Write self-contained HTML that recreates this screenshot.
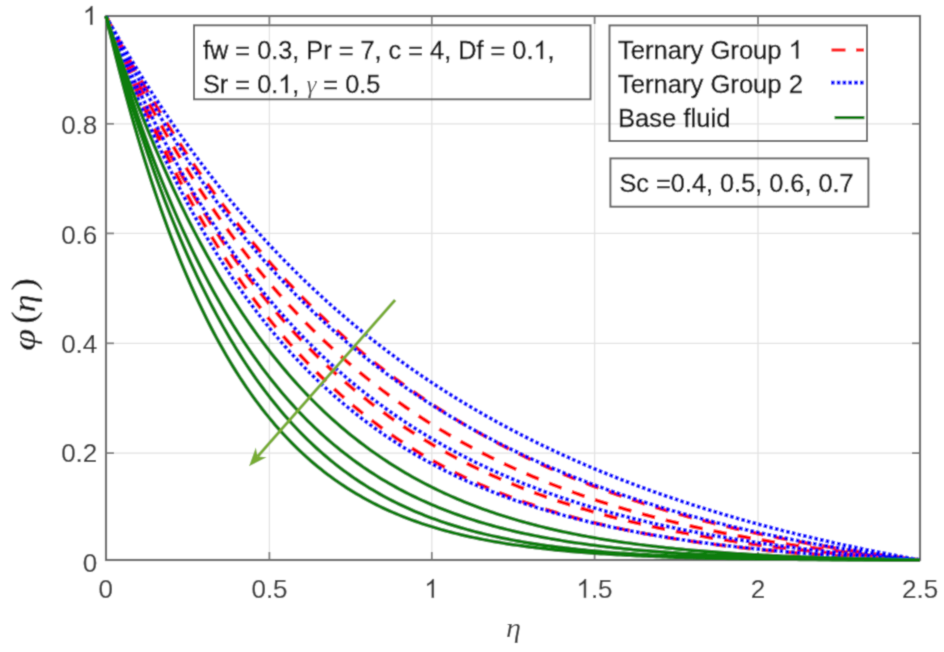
<!DOCTYPE html>
<html><head><meta charset="utf-8"><style>
html,body{margin:0;padding:0;background:#fff;}
svg{display:block;}
.g{stroke:#e2e2e2;stroke-width:1.3;}
.cg{fill:none;stroke:#0a7d0a;stroke-width:3.5;}
.cr{fill:none;stroke:#ff0000;stroke-width:3.7;stroke-dasharray:13.5,11;}
.cb{fill:none;stroke:#0000ff;stroke-width:3.7;stroke-dasharray:3.6,2.2;}
.ax{fill:none;stroke:#666;stroke-width:2.2;}
.tk{stroke:#7a7a7a;stroke-width:1.8;}
.tl{font-family:"Liberation Sans",sans-serif;font-size:26px;fill:#3a3a3a;stroke:#3a3a3a;stroke-width:0.2px;}
.tx{font-family:"Liberation Sans",sans-serif;font-size:25.3px;fill:#141414;stroke:#141414;stroke-width:0.4px;}
.lg{font-size:25.6px;}
.h1{fill:transparent;stroke:none;}
.gm{font-family:"Liberation Serif",serif;font-style:italic;fill:#555;stroke:none;}
.bx{fill:none;stroke:#666;stroke-width:2;}
.ml{font-family:"Liberation Serif",serif;font-style:italic;fill:#3a3a3a;}
.ml2{font-family:"Liberation Serif",serif;font-style:italic;fill:#1e1e1e;stroke:#1e1e1e;stroke-width:0.3px;}
.mr{font-family:"Liberation Serif",serif;fill:#1a1a1a;stroke:#1a1a1a;stroke-width:0.3px;}
</style></head><body>
<svg width="944" height="652" viewBox="0 0 944 652">
<defs><filter id="bl" x="0" y="0" width="944" height="652" filterUnits="userSpaceOnUse"><feConvolveMatrix order="3" kernelMatrix="0.02768 0.11101 0.02768 0.11101 0.44521 0.11101 0.02768 0.11101 0.02768" edgeMode="duplicate" preserveAlpha="false"/></filter></defs>
<g filter="url(#bl)"><rect width="944" height="652" fill="#fff"/>
<line x1="269.4" y1="16" x2="269.4" y2="560" class="g"/>
<line x1="431.8" y1="16" x2="431.8" y2="560" class="g"/>
<line x1="594.6" y1="16" x2="594.6" y2="560" class="g"/>
<line x1="758.0" y1="16" x2="758.0" y2="560" class="g"/>
<line x1="106" y1="453.1" x2="920" y2="453.1" class="g"/>
<line x1="106" y1="343.3" x2="920" y2="343.3" class="g"/>
<line x1="106" y1="233.4" x2="920" y2="233.4" class="g"/>
<line x1="106" y1="123.8" x2="920" y2="123.8" class="g"/>
<rect x="106" y="16" width="814" height="544" class="ax"/>
<line x1="269.4" y1="560" x2="269.4" y2="552" class="tk"/>
<line x1="269.4" y1="16" x2="269.4" y2="24" class="tk"/>
<line x1="431.8" y1="560" x2="431.8" y2="552" class="tk"/>
<line x1="431.8" y1="16" x2="431.8" y2="24" class="tk"/>
<line x1="594.6" y1="560" x2="594.6" y2="552" class="tk"/>
<line x1="594.6" y1="16" x2="594.6" y2="24" class="tk"/>
<line x1="758.0" y1="560" x2="758.0" y2="552" class="tk"/>
<line x1="758.0" y1="16" x2="758.0" y2="24" class="tk"/>
<line x1="106" y1="453.1" x2="114" y2="453.1" class="tk"/>
<line x1="920" y1="453.1" x2="912" y2="453.1" class="tk"/>
<line x1="106" y1="343.3" x2="114" y2="343.3" class="tk"/>
<line x1="920" y1="343.3" x2="912" y2="343.3" class="tk"/>
<line x1="106" y1="233.4" x2="114" y2="233.4" class="tk"/>
<line x1="920" y1="233.4" x2="912" y2="233.4" class="tk"/>
<line x1="106" y1="123.8" x2="114" y2="123.8" class="tk"/>
<line x1="920" y1="123.8" x2="912" y2="123.8" class="tk"/>
<path d="M106.00,16.00 L109.26,22.29 L112.51,28.52 L115.77,34.68 L119.02,40.78 L122.28,46.81 L125.54,52.78 L128.79,58.69 L132.05,64.53 L135.30,70.31 L138.56,76.03 L141.82,81.69 L145.07,87.29 L148.33,92.83 L151.58,98.31 L154.84,103.73 L158.10,109.10 L161.35,114.41 L164.61,119.66 L167.86,124.86 L171.12,130.00 L174.38,135.08 L177.63,140.12 L180.89,145.09 L184.14,150.02 L187.40,154.89 L190.66,159.72 L193.91,164.49 L197.17,169.21 L200.42,173.87 L203.68,178.49 L206.94,183.06 L210.19,187.58 L213.45,192.06 L216.70,196.48 L219.96,200.86 L223.22,205.19 L226.47,209.48 L229.73,213.71 L232.98,217.91 L236.24,222.06 L239.50,226.16 L242.75,230.22 L246.01,234.24 L249.26,238.21 L252.52,242.14 L255.78,246.03 L259.03,249.88 L262.29,253.68 L265.54,257.45 L268.80,261.17 L272.06,264.86 L275.31,268.50 L278.57,272.11 L281.82,275.67 L285.08,279.20 L288.34,282.69 L291.59,286.14 L294.85,289.56 L298.10,292.94 L301.36,296.28 L304.62,299.58 L307.87,302.85 L311.13,306.09 L314.38,309.29 L317.64,312.45 L320.90,315.59 L324.15,318.68 L327.41,321.75 L330.66,324.78 L333.92,327.77 L337.18,330.74 L340.43,333.67 L343.69,336.57 L346.94,339.44 L350.20,342.28 L353.46,345.09 L356.71,347.87 L359.97,350.61 L363.22,353.33 L366.48,356.02 L369.74,358.68 L372.99,361.31 L376.25,363.91 L379.50,366.48 L382.76,369.03 L386.02,371.54 L389.27,374.03 L392.53,376.49 L395.78,378.93 L399.04,381.34 L402.30,383.72 L405.55,386.08 L408.81,388.41 L412.06,390.71 L415.32,392.99 L418.58,395.25 L421.83,397.48 L425.09,399.69 L428.34,401.87 L431.60,404.03 L434.86,406.16 L438.11,408.27 L441.37,410.36 L444.62,412.42 L447.88,414.47 L451.14,416.49 L454.39,418.48 L457.65,420.46 L460.90,422.41 L464.16,424.35 L467.42,426.26 L470.67,428.15 L473.93,430.02 L477.18,431.87 L480.44,433.70 L483.70,435.50 L486.95,437.29 L490.21,439.06 L493.46,440.81 L496.72,442.54 L499.98,444.25 L503.23,445.94 L506.49,447.62 L509.74,449.27 L513.00,450.91 L516.26,452.52 L519.51,454.13 L522.77,455.71 L526.02,457.27 L529.28,458.82 L532.54,460.35 L535.79,461.87 L539.05,463.36 L542.30,464.84 L545.56,466.31 L548.82,467.75 L552.07,469.19 L555.33,470.60 L558.58,472.00 L561.84,473.39 L565.10,474.76 L568.35,476.11 L571.61,477.45 L574.86,478.77 L578.12,480.08 L581.38,481.37 L584.63,482.65 L587.89,483.92 L591.14,485.17 L594.40,486.41 L597.66,487.63 L600.91,488.84 L604.17,490.04 L607.42,491.22 L610.68,492.39 L613.94,493.55 L617.19,494.70 L620.45,495.83 L623.70,496.95 L626.96,498.05 L630.22,499.14 L633.47,500.23 L636.73,501.30 L639.98,502.35 L643.24,503.40 L646.50,504.43 L649.75,505.45 L653.01,506.46 L656.26,507.46 L659.52,508.45 L662.78,509.43 L666.03,510.40 L669.29,511.35 L672.54,512.29 L675.80,513.23 L679.06,514.15 L682.31,515.06 L685.57,515.97 L688.82,516.86 L692.08,517.74 L695.34,518.61 L698.59,519.48 L701.85,520.33 L705.10,521.17 L708.36,522.01 L711.62,522.83 L714.87,523.64 L718.13,524.45 L721.38,525.25 L724.64,526.03 L727.90,526.81 L731.15,527.58 L734.41,528.34 L737.66,529.10 L740.92,529.84 L744.18,530.57 L747.43,531.30 L750.69,532.02 L753.94,532.73 L757.20,533.43 L760.46,534.13 L763.71,534.82 L766.97,535.49 L770.22,536.17 L773.48,536.83 L776.74,537.48 L779.99,538.13 L783.25,538.77 L786.50,539.41 L789.76,540.03 L793.02,540.65 L796.27,541.27 L799.53,541.87 L802.78,542.47 L806.04,543.06 L809.30,543.65 L812.55,544.22 L815.81,544.80 L819.06,545.36 L822.32,545.92 L825.58,546.47 L828.83,547.02 L832.09,547.56 L835.34,548.09 L838.60,548.62 L841.86,549.14 L845.11,549.65 L848.37,550.16 L851.62,550.67 L854.88,551.17 L858.14,551.66 L861.39,552.14 L864.65,552.62 L867.90,553.10 L871.16,553.57 L874.42,554.03 L877.67,554.49 L880.93,554.95 L884.18,555.40 L887.44,555.84 L890.70,556.28 L893.95,556.71 L897.21,557.14 L900.46,557.56 L903.72,557.98 L906.98,558.39 L910.23,558.80 L913.49,559.21 L916.74,559.61 L920.00,560.00" class="cr"/>
<path d="M106.00,16.00 L109.26,23.11 L112.51,30.14 L115.77,37.07 L119.02,43.92 L122.28,50.69 L125.54,57.37 L128.79,63.97 L132.05,70.49 L135.30,76.93 L138.56,83.29 L141.82,89.57 L145.07,95.77 L148.33,101.89 L151.58,107.94 L154.84,113.92 L158.10,119.82 L161.35,125.64 L164.61,131.40 L167.86,137.08 L171.12,142.69 L174.38,148.24 L177.63,153.71 L180.89,159.12 L184.14,164.45 L187.40,169.73 L190.66,174.93 L193.91,180.08 L197.17,185.15 L200.42,190.17 L203.68,195.12 L206.94,200.01 L210.19,204.85 L213.45,209.62 L216.70,214.33 L219.96,218.98 L223.22,223.57 L226.47,228.11 L229.73,232.59 L232.98,237.02 L236.24,241.39 L239.50,245.70 L242.75,249.96 L246.01,254.17 L249.26,258.33 L252.52,262.43 L255.78,266.49 L259.03,270.49 L262.29,274.44 L265.54,278.35 L268.80,282.20 L272.06,286.01 L275.31,289.76 L278.57,293.48 L281.82,297.14 L285.08,300.76 L288.34,304.34 L291.59,307.87 L294.85,311.35 L298.10,314.79 L301.36,318.19 L304.62,321.55 L307.87,324.86 L311.13,328.14 L314.38,331.37 L317.64,334.56 L320.90,337.71 L324.15,340.82 L327.41,343.90 L330.66,346.93 L333.92,349.93 L337.18,352.88 L340.43,355.81 L343.69,358.69 L346.94,361.54 L350.20,364.35 L353.46,367.13 L356.71,369.87 L359.97,372.58 L363.22,375.26 L366.48,377.90 L369.74,380.51 L372.99,383.08 L376.25,385.62 L379.50,388.13 L382.76,390.61 L386.02,393.06 L389.27,395.48 L392.53,397.86 L395.78,400.22 L399.04,402.55 L402.30,404.84 L405.55,407.11 L408.81,409.35 L412.06,411.56 L415.32,413.75 L418.58,415.91 L421.83,418.03 L425.09,420.14 L428.34,422.21 L431.60,424.26 L434.86,426.29 L438.11,428.28 L441.37,430.26 L444.62,432.21 L447.88,434.13 L451.14,436.03 L454.39,437.90 L457.65,439.76 L460.90,441.58 L464.16,443.39 L467.42,445.17 L470.67,446.93 L473.93,448.67 L477.18,450.38 L480.44,452.08 L483.70,453.75 L486.95,455.40 L490.21,457.03 L493.46,458.64 L496.72,460.23 L499.98,461.80 L503.23,463.35 L506.49,464.88 L509.74,466.39 L513.00,467.88 L516.26,469.35 L519.51,470.80 L522.77,472.24 L526.02,473.65 L529.28,475.05 L532.54,476.43 L535.79,477.80 L539.05,479.14 L542.30,480.47 L545.56,481.79 L548.82,483.08 L552.07,484.36 L555.33,485.62 L558.58,486.87 L561.84,488.10 L565.10,489.32 L568.35,490.51 L571.61,491.70 L574.86,492.87 L578.12,494.02 L581.38,495.16 L584.63,496.29 L587.89,497.40 L591.14,498.50 L594.40,499.58 L597.66,500.65 L600.91,501.70 L604.17,502.74 L607.42,503.77 L610.68,504.79 L613.94,505.79 L617.19,506.78 L620.45,507.76 L623.70,508.72 L626.96,509.67 L630.22,510.62 L633.47,511.54 L636.73,512.46 L639.98,513.36 L643.24,514.26 L646.50,515.14 L649.75,516.01 L653.01,516.87 L656.26,517.72 L659.52,518.55 L662.78,519.38 L666.03,520.20 L669.29,521.00 L672.54,521.80 L675.80,522.58 L679.06,523.36 L682.31,524.12 L685.57,524.88 L688.82,525.62 L692.08,526.36 L695.34,527.08 L698.59,527.80 L701.85,528.51 L705.10,529.21 L708.36,529.90 L711.62,530.58 L714.87,531.25 L718.13,531.92 L721.38,532.57 L724.64,533.22 L727.90,533.86 L731.15,534.49 L734.41,535.11 L737.66,535.72 L740.92,536.33 L744.18,536.93 L747.43,537.52 L750.69,538.10 L753.94,538.68 L757.20,539.25 L760.46,539.81 L763.71,540.36 L766.97,540.91 L770.22,541.45 L773.48,541.98 L776.74,542.50 L779.99,543.02 L783.25,543.54 L786.50,544.04 L789.76,544.54 L793.02,545.03 L796.27,545.52 L799.53,546.00 L802.78,546.47 L806.04,546.94 L809.30,547.40 L812.55,547.86 L815.81,548.31 L819.06,548.75 L822.32,549.19 L825.58,549.62 L828.83,550.05 L832.09,550.47 L835.34,550.89 L838.60,551.30 L841.86,551.70 L845.11,552.10 L848.37,552.50 L851.62,552.89 L854.88,553.27 L858.14,553.65 L861.39,554.03 L864.65,554.40 L867.90,554.76 L871.16,555.12 L874.42,555.48 L877.67,555.83 L880.93,556.18 L884.18,556.52 L887.44,556.86 L890.70,557.19 L893.95,557.52 L897.21,557.84 L900.46,558.16 L903.72,558.48 L906.98,558.79 L910.23,559.10 L913.49,559.40 L916.74,559.70 L920.00,560.00" class="cr"/>
<path d="M106.00,16.00 L109.26,23.96 L112.51,31.81 L115.77,39.55 L119.02,47.18 L122.28,54.71 L125.54,62.13 L128.79,69.45 L132.05,76.66 L135.30,83.77 L138.56,90.79 L141.82,97.70 L145.07,104.52 L148.33,111.24 L151.58,117.87 L154.84,124.41 L158.10,130.85 L161.35,137.20 L164.61,143.47 L167.86,149.64 L171.12,155.73 L174.38,161.74 L177.63,167.66 L180.89,173.49 L184.14,179.25 L187.40,184.92 L190.66,190.51 L193.91,196.03 L197.17,201.47 L200.42,206.83 L203.68,212.11 L206.94,217.32 L210.19,222.46 L213.45,227.52 L216.70,232.51 L219.96,237.44 L223.22,242.29 L226.47,247.07 L229.73,251.79 L232.98,256.44 L236.24,261.02 L239.50,265.54 L242.75,270.00 L246.01,274.39 L249.26,278.72 L252.52,282.99 L255.78,287.19 L259.03,291.34 L262.29,295.43 L265.54,299.46 L268.80,303.44 L272.06,307.35 L275.31,311.22 L278.57,315.02 L281.82,318.78 L285.08,322.48 L288.34,326.12 L291.59,329.72 L294.85,333.26 L298.10,336.75 L301.36,340.20 L304.62,343.59 L307.87,346.94 L311.13,350.24 L314.38,353.49 L317.64,356.69 L320.90,359.85 L324.15,362.97 L327.41,366.04 L330.66,369.06 L333.92,372.05 L337.18,374.99 L340.43,377.88 L343.69,380.74 L346.94,383.56 L350.20,386.33 L353.46,389.07 L356.71,391.76 L359.97,394.42 L363.22,397.04 L366.48,399.62 L369.74,402.17 L372.99,404.68 L376.25,407.15 L379.50,409.59 L382.76,411.99 L386.02,414.36 L389.27,416.69 L392.53,418.99 L395.78,421.26 L399.04,423.49 L402.30,425.69 L405.55,427.86 L408.81,430.00 L412.06,432.11 L415.32,434.19 L418.58,436.24 L421.83,438.25 L425.09,440.24 L428.34,442.20 L431.60,444.14 L434.86,446.04 L438.11,447.92 L441.37,449.77 L444.62,451.59 L447.88,453.39 L451.14,455.16 L454.39,456.90 L457.65,458.62 L460.90,460.32 L464.16,461.99 L467.42,463.63 L470.67,465.26 L473.93,466.85 L477.18,468.43 L480.44,469.98 L483.70,471.51 L486.95,473.02 L490.21,474.51 L493.46,475.97 L496.72,477.41 L499.98,478.84 L503.23,480.24 L506.49,481.62 L509.74,482.98 L513.00,484.32 L516.26,485.64 L519.51,486.94 L522.77,488.23 L526.02,489.49 L529.28,490.74 L532.54,491.97 L535.79,493.18 L539.05,494.37 L542.30,495.54 L545.56,496.70 L548.82,497.84 L552.07,498.97 L555.33,500.08 L558.58,501.17 L561.84,502.24 L565.10,503.30 L568.35,504.35 L571.61,505.38 L574.86,506.39 L578.12,507.39 L581.38,508.37 L584.63,509.34 L587.89,510.30 L591.14,511.24 L594.40,512.17 L597.66,513.08 L600.91,513.99 L604.17,514.87 L607.42,515.75 L610.68,516.61 L613.94,517.46 L617.19,518.30 L620.45,519.12 L623.70,519.93 L626.96,520.73 L630.22,521.52 L633.47,522.30 L636.73,523.06 L639.98,523.82 L643.24,524.56 L646.50,525.29 L649.75,526.01 L653.01,526.72 L656.26,527.42 L659.52,528.11 L662.78,528.79 L666.03,529.46 L669.29,530.12 L672.54,530.77 L675.80,531.41 L679.06,532.04 L682.31,532.66 L685.57,533.28 L688.82,533.88 L692.08,534.47 L695.34,535.06 L698.59,535.64 L701.85,536.20 L705.10,536.76 L708.36,537.31 L711.62,537.86 L714.87,538.39 L718.13,538.92 L721.38,539.44 L724.64,539.95 L727.90,540.46 L731.15,540.95 L734.41,541.44 L737.66,541.92 L740.92,542.40 L744.18,542.86 L747.43,543.33 L750.69,543.78 L753.94,544.23 L757.20,544.67 L760.46,545.10 L763.71,545.53 L766.97,545.95 L770.22,546.36 L773.48,546.77 L776.74,547.17 L779.99,547.57 L783.25,547.96 L786.50,548.34 L789.76,548.72 L793.02,549.10 L796.27,549.46 L799.53,549.83 L802.78,550.18 L806.04,550.53 L809.30,550.88 L812.55,551.22 L815.81,551.56 L819.06,551.89 L822.32,552.21 L825.58,552.53 L828.83,552.85 L832.09,553.16 L835.34,553.47 L838.60,553.77 L841.86,554.07 L845.11,554.36 L848.37,554.65 L851.62,554.93 L854.88,555.21 L858.14,555.49 L861.39,555.76 L864.65,556.03 L867.90,556.29 L871.16,556.55 L874.42,556.80 L877.67,557.06 L880.93,557.30 L884.18,557.55 L887.44,557.79 L890.70,558.02 L893.95,558.26 L897.21,558.49 L900.46,558.71 L903.72,558.94 L906.98,559.16 L910.23,559.37 L913.49,559.58 L916.74,559.79 L920.00,560.00" class="cr"/>
<path d="M106.00,16.00 L109.26,24.46 L112.51,32.81 L115.77,41.03 L119.02,49.14 L122.28,57.13 L125.54,65.01 L128.79,72.78 L132.05,80.44 L135.30,87.98 L138.56,95.42 L141.82,102.75 L145.07,109.97 L148.33,117.10 L151.58,124.11 L154.84,131.03 L158.10,137.85 L161.35,144.57 L164.61,151.19 L167.86,157.71 L171.12,164.14 L174.38,170.48 L177.63,176.72 L180.89,182.87 L184.14,188.94 L187.40,194.91 L190.66,200.79 L193.91,206.59 L197.17,212.31 L200.42,217.94 L203.68,223.49 L206.94,228.95 L210.19,234.34 L213.45,239.64 L216.70,244.87 L219.96,250.01 L223.22,255.09 L226.47,260.08 L229.73,265.00 L232.98,269.85 L236.24,274.63 L239.50,279.33 L242.75,283.97 L246.01,288.53 L249.26,293.03 L252.52,297.46 L255.78,301.82 L259.03,306.11 L262.29,310.34 L265.54,314.51 L268.80,318.61 L272.06,322.66 L275.31,326.64 L278.57,330.55 L281.82,334.41 L285.08,338.22 L288.34,341.96 L291.59,345.64 L294.85,349.27 L298.10,352.85 L301.36,356.37 L304.62,359.83 L307.87,363.24 L311.13,366.60 L314.38,369.91 L317.64,373.16 L320.90,376.37 L324.15,379.52 L327.41,382.63 L330.66,385.69 L333.92,388.70 L337.18,391.67 L340.43,394.58 L343.69,397.46 L346.94,400.28 L350.20,403.07 L353.46,405.81 L356.71,408.50 L359.97,411.16 L363.22,413.77 L366.48,416.34 L369.74,418.87 L372.99,421.36 L376.25,423.82 L379.50,426.23 L382.76,428.60 L386.02,430.94 L389.27,433.24 L392.53,435.50 L395.78,437.73 L399.04,439.92 L402.30,442.08 L405.55,444.20 L408.81,446.29 L412.06,448.34 L415.32,450.37 L418.58,452.36 L421.83,454.31 L425.09,456.24 L428.34,458.13 L431.60,460.00 L434.86,461.83 L438.11,463.64 L441.37,465.41 L444.62,467.16 L447.88,468.88 L451.14,470.57 L454.39,472.23 L457.65,473.86 L460.90,475.47 L464.16,477.05 L467.42,478.61 L470.67,480.14 L473.93,481.65 L477.18,483.13 L480.44,484.59 L483.70,486.02 L486.95,487.43 L490.21,488.81 L493.46,490.18 L496.72,491.52 L499.98,492.84 L503.23,494.13 L506.49,495.41 L509.74,496.66 L513.00,497.89 L516.26,499.11 L519.51,500.30 L522.77,501.47 L526.02,502.62 L529.28,503.76 L532.54,504.87 L535.79,505.97 L539.05,507.04 L542.30,508.10 L545.56,509.14 L548.82,510.17 L552.07,511.17 L555.33,512.16 L558.58,513.13 L561.84,514.09 L565.10,515.03 L568.35,515.95 L571.61,516.86 L574.86,517.76 L578.12,518.63 L581.38,519.50 L584.63,520.34 L587.89,521.18 L591.14,522.00 L594.40,522.80 L597.66,523.59 L600.91,524.37 L604.17,525.14 L607.42,525.89 L610.68,526.62 L613.94,527.35 L617.19,528.06 L620.45,528.76 L623.70,529.45 L626.96,530.13 L630.22,530.79 L633.47,531.45 L636.73,532.09 L639.98,532.72 L643.24,533.34 L646.50,533.95 L649.75,534.55 L653.01,535.13 L656.26,535.71 L659.52,536.28 L662.78,536.84 L666.03,537.38 L669.29,537.92 L672.54,538.45 L675.80,538.97 L679.06,539.48 L682.31,539.98 L685.57,540.47 L688.82,540.96 L692.08,541.43 L695.34,541.90 L698.59,542.36 L701.85,542.81 L705.10,543.25 L708.36,543.68 L711.62,544.11 L714.87,544.53 L718.13,544.94 L721.38,545.34 L724.64,545.74 L727.90,546.13 L731.15,546.51 L734.41,546.89 L737.66,547.26 L740.92,547.62 L744.18,547.98 L747.43,548.32 L750.69,548.67 L753.94,549.00 L757.20,549.34 L760.46,549.66 L763.71,549.98 L766.97,550.29 L770.22,550.60 L773.48,550.90 L776.74,551.20 L779.99,551.49 L783.25,551.77 L786.50,552.05 L789.76,552.33 L793.02,552.60 L796.27,552.86 L799.53,553.12 L802.78,553.38 L806.04,553.63 L809.30,553.88 L812.55,554.12 L815.81,554.36 L819.06,554.59 L822.32,554.82 L825.58,555.04 L828.83,555.26 L832.09,555.48 L835.34,555.69 L838.60,555.90 L841.86,556.10 L845.11,556.30 L848.37,556.50 L851.62,556.69 L854.88,556.88 L858.14,557.07 L861.39,557.25 L864.65,557.43 L867.90,557.60 L871.16,557.78 L874.42,557.94 L877.67,558.11 L880.93,558.27 L884.18,558.43 L887.44,558.59 L890.70,558.74 L893.95,558.89 L897.21,559.04 L900.46,559.19 L903.72,559.33 L906.98,559.47 L910.23,559.60 L913.49,559.74 L916.74,559.87 L920.00,560.00" class="cr"/>
<path d="M106.00,16.00 L109.26,21.82 L112.51,27.57 L115.77,33.27 L119.02,38.90 L122.28,44.48 L125.54,50.00 L128.79,55.46 L132.05,60.86 L135.30,66.21 L138.56,71.51 L141.82,76.74 L145.07,81.93 L148.33,87.06 L151.58,92.13 L154.84,97.16 L158.10,102.13 L161.35,107.05 L164.61,111.92 L167.86,116.74 L171.12,121.51 L174.38,126.23 L177.63,130.90 L180.89,135.53 L184.14,140.11 L187.40,144.64 L190.66,149.12 L193.91,153.56 L197.17,157.96 L200.42,162.31 L203.68,166.61 L206.94,170.87 L210.19,175.09 L213.45,179.26 L216.70,183.40 L219.96,187.49 L223.22,191.54 L226.47,195.55 L229.73,199.52 L232.98,203.44 L236.24,207.33 L239.50,211.18 L242.75,215.00 L246.01,218.77 L249.26,222.50 L252.52,226.20 L255.78,229.86 L259.03,233.49 L262.29,237.08 L265.54,240.63 L268.80,244.15 L272.06,247.63 L275.31,251.08 L278.57,254.49 L281.82,257.87 L285.08,261.22 L288.34,264.53 L291.59,267.81 L294.85,271.06 L298.10,274.28 L301.36,277.47 L304.62,280.62 L307.87,283.74 L311.13,286.83 L314.38,289.90 L317.64,292.93 L320.90,295.93 L324.15,298.91 L327.41,301.85 L330.66,304.77 L333.92,307.65 L337.18,310.51 L340.43,313.34 L343.69,316.15 L346.94,318.92 L350.20,321.67 L353.46,324.40 L356.71,327.10 L359.97,329.77 L363.22,332.41 L366.48,335.03 L369.74,337.63 L372.99,340.20 L376.25,342.74 L379.50,345.26 L382.76,347.76 L386.02,350.24 L389.27,352.69 L392.53,355.11 L395.78,357.51 L399.04,359.90 L402.30,362.25 L405.55,364.59 L408.81,366.90 L412.06,369.19 L415.32,371.46 L418.58,373.71 L421.83,375.94 L425.09,378.15 L428.34,380.33 L431.60,382.50 L434.86,384.64 L438.11,386.76 L441.37,388.87 L444.62,390.95 L447.88,393.02 L451.14,395.07 L454.39,397.09 L457.65,399.10 L460.90,401.09 L464.16,403.06 L467.42,405.01 L470.67,406.95 L473.93,408.87 L477.18,410.76 L480.44,412.65 L483.70,414.51 L486.95,416.36 L490.21,418.19 L493.46,420.00 L496.72,421.80 L499.98,423.58 L503.23,425.34 L506.49,427.09 L509.74,428.82 L513.00,430.53 L516.26,432.23 L519.51,433.92 L522.77,435.59 L526.02,437.24 L529.28,438.88 L532.54,440.51 L535.79,442.11 L539.05,443.71 L542.30,445.29 L545.56,446.86 L548.82,448.41 L552.07,449.95 L555.33,451.47 L558.58,452.98 L561.84,454.48 L565.10,455.96 L568.35,457.43 L571.61,458.89 L574.86,460.33 L578.12,461.76 L581.38,463.18 L584.63,464.59 L587.89,465.98 L591.14,467.36 L594.40,468.73 L597.66,470.08 L600.91,471.43 L604.17,472.76 L607.42,474.08 L610.68,475.39 L613.94,476.69 L617.19,477.97 L620.45,479.25 L623.70,480.51 L626.96,481.76 L630.22,483.00 L633.47,484.23 L636.73,485.45 L639.98,486.66 L643.24,487.86 L646.50,489.05 L649.75,490.23 L653.01,491.39 L656.26,492.55 L659.52,493.70 L662.78,494.84 L666.03,495.96 L669.29,497.08 L672.54,498.19 L675.80,499.29 L679.06,500.37 L682.31,501.45 L685.57,502.52 L688.82,503.58 L692.08,504.64 L695.34,505.68 L698.59,506.71 L701.85,507.74 L705.10,508.75 L708.36,509.76 L711.62,510.76 L714.87,511.75 L718.13,512.73 L721.38,513.70 L724.64,514.67 L727.90,515.63 L731.15,516.58 L734.41,517.52 L737.66,518.45 L740.92,519.37 L744.18,520.29 L747.43,521.20 L750.69,522.10 L753.94,523.00 L757.20,523.88 L760.46,524.76 L763.71,525.63 L766.97,526.50 L770.22,527.35 L773.48,528.20 L776.74,529.05 L779.99,529.88 L783.25,530.71 L786.50,531.53 L789.76,532.35 L793.02,533.16 L796.27,533.96 L799.53,534.75 L802.78,535.54 L806.04,536.32 L809.30,537.10 L812.55,537.87 L815.81,538.63 L819.06,539.39 L822.32,540.14 L825.58,540.88 L828.83,541.62 L832.09,542.35 L835.34,543.07 L838.60,543.79 L841.86,544.51 L845.11,545.22 L848.37,545.92 L851.62,546.61 L854.88,547.31 L858.14,547.99 L861.39,548.67 L864.65,549.34 L867.90,550.01 L871.16,550.67 L874.42,551.33 L877.67,551.98 L880.93,552.63 L884.18,553.27 L887.44,553.91 L890.70,554.54 L893.95,555.17 L897.21,555.79 L900.46,556.41 L903.72,557.02 L906.98,557.62 L910.23,558.22 L913.49,558.82 L916.74,559.41 L920.00,560.00" class="cb"/>
<path d="M106.00,16.00 L109.26,22.65 L112.51,29.22 L115.77,35.70 L119.02,42.11 L122.28,48.43 L125.54,54.68 L128.79,60.85 L132.05,66.94 L135.30,72.96 L138.56,78.90 L141.82,84.77 L145.07,90.57 L148.33,96.29 L151.58,101.95 L154.84,107.53 L158.10,113.05 L161.35,118.50 L164.61,123.88 L167.86,129.20 L171.12,134.45 L174.38,139.64 L177.63,144.77 L180.89,149.83 L184.14,154.84 L187.40,159.78 L190.66,164.66 L193.91,169.48 L197.17,174.25 L200.42,178.96 L203.68,183.61 L206.94,188.21 L210.19,192.75 L213.45,197.24 L216.70,201.67 L219.96,206.05 L223.22,210.38 L226.47,214.66 L229.73,218.89 L232.98,223.06 L236.24,227.19 L239.50,231.27 L242.75,235.30 L246.01,239.28 L249.26,243.22 L252.52,247.11 L255.78,250.96 L259.03,254.76 L262.29,258.51 L265.54,262.22 L268.80,265.89 L272.06,269.52 L275.31,273.10 L278.57,276.64 L281.82,280.15 L285.08,283.61 L288.34,287.03 L291.59,290.41 L294.85,293.75 L298.10,297.06 L301.36,300.32 L304.62,303.55 L307.87,306.74 L311.13,309.90 L314.38,313.02 L317.64,316.10 L320.90,319.15 L324.15,322.16 L327.41,325.14 L330.66,328.09 L333.92,331.00 L337.18,333.88 L340.43,336.73 L343.69,339.54 L346.94,342.33 L350.20,345.08 L353.46,347.80 L356.71,350.49 L359.97,353.15 L363.22,355.78 L366.48,358.38 L369.74,360.96 L372.99,363.50 L376.25,366.02 L379.50,368.50 L382.76,370.96 L386.02,373.40 L389.27,375.80 L392.53,378.18 L395.78,380.53 L399.04,382.86 L402.30,385.16 L405.55,387.44 L408.81,389.69 L412.06,391.91 L415.32,394.12 L418.58,396.29 L421.83,398.45 L425.09,400.58 L428.34,402.69 L431.60,404.77 L434.86,406.83 L438.11,408.87 L441.37,410.89 L444.62,412.88 L447.88,414.86 L451.14,416.81 L454.39,418.74 L457.65,420.65 L460.90,422.54 L464.16,424.41 L467.42,426.26 L470.67,428.09 L473.93,429.90 L477.18,431.69 L480.44,433.46 L483.70,435.21 L486.95,436.94 L490.21,438.66 L493.46,440.35 L496.72,442.03 L499.98,443.69 L503.23,445.33 L506.49,446.96 L509.74,448.57 L513.00,450.16 L516.26,451.73 L519.51,453.29 L522.77,454.83 L526.02,456.35 L529.28,457.86 L532.54,459.35 L535.79,460.83 L539.05,462.29 L542.30,463.74 L545.56,465.17 L548.82,466.58 L552.07,467.98 L555.33,469.37 L558.58,470.74 L561.84,472.10 L565.10,473.44 L568.35,474.77 L571.61,476.08 L574.86,477.38 L578.12,478.67 L581.38,479.94 L584.63,481.21 L587.89,482.45 L591.14,483.69 L594.40,484.91 L597.66,486.12 L600.91,487.31 L604.17,488.50 L607.42,489.67 L610.68,490.83 L613.94,491.97 L617.19,493.11 L620.45,494.23 L623.70,495.34 L626.96,496.44 L630.22,497.53 L633.47,498.61 L636.73,499.68 L639.98,500.73 L643.24,501.78 L646.50,502.81 L649.75,503.83 L653.01,504.84 L656.26,505.84 L659.52,506.84 L662.78,507.82 L666.03,508.79 L669.29,509.75 L672.54,510.70 L675.80,511.64 L679.06,512.57 L682.31,513.49 L685.57,514.40 L688.82,515.30 L692.08,516.20 L695.34,517.08 L698.59,517.95 L701.85,518.82 L705.10,519.68 L708.36,520.52 L711.62,521.36 L714.87,522.19 L718.13,523.01 L721.38,523.83 L724.64,524.63 L727.90,525.43 L731.15,526.21 L734.41,526.99 L737.66,527.76 L740.92,528.53 L744.18,529.28 L747.43,530.03 L750.69,530.77 L753.94,531.50 L757.20,532.22 L760.46,532.94 L763.71,533.65 L766.97,534.35 L770.22,535.04 L773.48,535.73 L776.74,536.41 L779.99,537.08 L783.25,537.75 L786.50,538.40 L789.76,539.05 L793.02,539.70 L796.27,540.33 L799.53,540.96 L802.78,541.59 L806.04,542.20 L809.30,542.81 L812.55,543.42 L815.81,544.02 L819.06,544.61 L822.32,545.19 L825.58,545.77 L828.83,546.34 L832.09,546.91 L835.34,547.46 L838.60,548.02 L841.86,548.56 L845.11,549.11 L848.37,549.64 L851.62,550.17 L854.88,550.69 L858.14,551.21 L861.39,551.72 L864.65,552.23 L867.90,552.73 L871.16,553.22 L874.42,553.71 L877.67,554.20 L880.93,554.67 L884.18,555.15 L887.44,555.61 L890.70,556.08 L893.95,556.53 L897.21,556.98 L900.46,557.43 L903.72,557.87 L906.98,558.31 L910.23,558.74 L913.49,559.16 L916.74,559.58 L920.00,560.00" class="cb"/>
<path d="M106.00,16.00 L109.26,23.84 L112.51,31.57 L115.77,39.19 L119.02,46.70 L122.28,54.11 L125.54,61.41 L128.79,68.61 L132.05,75.71 L135.30,82.71 L138.56,89.60 L141.82,96.41 L145.07,103.11 L148.33,109.73 L151.58,116.24 L154.84,122.67 L158.10,129.01 L161.35,135.26 L164.61,141.41 L167.86,147.49 L171.12,153.48 L174.38,159.38 L177.63,165.20 L180.89,170.94 L184.14,176.60 L187.40,182.17 L190.66,187.67 L193.91,193.10 L197.17,198.44 L200.42,203.71 L203.68,208.91 L206.94,214.04 L210.19,219.09 L213.45,224.07 L216.70,228.98 L219.96,233.82 L223.22,238.60 L226.47,243.31 L229.73,247.95 L232.98,252.52 L236.24,257.04 L239.50,261.49 L242.75,265.87 L246.01,270.20 L249.26,274.46 L252.52,278.67 L255.78,282.81 L259.03,286.90 L262.29,290.93 L265.54,294.91 L268.80,298.82 L272.06,302.69 L275.31,306.50 L278.57,310.25 L281.82,313.96 L285.08,317.61 L288.34,321.21 L291.59,324.76 L294.85,328.26 L298.10,331.71 L301.36,335.12 L304.62,338.47 L307.87,341.78 L311.13,345.05 L314.38,348.26 L317.64,351.44 L320.90,354.56 L324.15,357.65 L327.41,360.69 L330.66,363.69 L333.92,366.65 L337.18,369.56 L340.43,372.44 L343.69,375.27 L346.94,378.07 L350.20,380.82 L353.46,383.54 L356.71,386.22 L359.97,388.86 L363.22,391.47 L366.48,394.04 L369.74,396.57 L372.99,399.07 L376.25,401.54 L379.50,403.96 L382.76,406.36 L386.02,408.72 L389.27,411.05 L392.53,413.35 L395.78,415.61 L399.04,417.85 L402.30,420.05 L405.55,422.22 L408.81,424.36 L412.06,426.47 L415.32,428.56 L418.58,430.61 L421.83,432.63 L425.09,434.63 L428.34,436.60 L431.60,438.54 L434.86,440.46 L438.11,442.34 L441.37,444.21 L444.62,446.04 L447.88,447.85 L451.14,449.64 L454.39,451.40 L457.65,453.13 L460.90,454.85 L464.16,456.54 L467.42,458.20 L470.67,459.84 L473.93,461.46 L477.18,463.06 L480.44,464.63 L483.70,466.18 L486.95,467.72 L490.21,469.23 L493.46,470.71 L496.72,472.18 L499.98,473.63 L503.23,475.06 L506.49,476.47 L509.74,477.86 L513.00,479.22 L516.26,480.58 L519.51,481.91 L522.77,483.22 L526.02,484.52 L529.28,485.79 L532.54,487.05 L535.79,488.30 L539.05,489.52 L542.30,490.73 L545.56,491.92 L548.82,493.09 L552.07,494.25 L555.33,495.40 L558.58,496.52 L561.84,497.63 L565.10,498.73 L568.35,499.81 L571.61,500.88 L574.86,501.93 L578.12,502.97 L581.38,503.99 L584.63,505.00 L587.89,505.99 L591.14,506.97 L594.40,507.94 L597.66,508.89 L600.91,509.83 L604.17,510.76 L607.42,511.68 L610.68,512.58 L613.94,513.47 L617.19,514.35 L620.45,515.21 L623.70,516.07 L626.96,516.91 L630.22,517.74 L633.47,518.56 L636.73,519.37 L639.98,520.16 L643.24,520.95 L646.50,521.72 L649.75,522.49 L653.01,523.24 L656.26,523.98 L659.52,524.72 L662.78,525.44 L666.03,526.15 L669.29,526.86 L672.54,527.55 L675.80,528.23 L679.06,528.91 L682.31,529.57 L685.57,530.23 L688.82,530.88 L692.08,531.52 L695.34,532.15 L698.59,532.77 L701.85,533.38 L705.10,533.98 L708.36,534.58 L711.62,535.17 L714.87,535.75 L718.13,536.32 L721.38,536.88 L724.64,537.44 L727.90,537.99 L731.15,538.53 L734.41,539.06 L737.66,539.59 L740.92,540.11 L744.18,540.62 L747.43,541.12 L750.69,541.62 L753.94,542.11 L757.20,542.60 L760.46,543.08 L763.71,543.55 L766.97,544.01 L770.22,544.47 L773.48,544.92 L776.74,545.37 L779.99,545.81 L783.25,546.24 L786.50,546.67 L789.76,547.09 L793.02,547.51 L796.27,547.92 L799.53,548.32 L802.78,548.72 L806.04,549.12 L809.30,549.51 L812.55,549.89 L815.81,550.27 L819.06,550.64 L822.32,551.01 L825.58,551.37 L828.83,551.73 L832.09,552.08 L835.34,552.43 L838.60,552.78 L841.86,553.12 L845.11,553.45 L848.37,553.78 L851.62,554.10 L854.88,554.43 L858.14,554.74 L861.39,555.05 L864.65,555.36 L867.90,555.67 L871.16,555.97 L874.42,556.26 L877.67,556.55 L880.93,556.84 L884.18,557.12 L887.44,557.40 L890.70,557.68 L893.95,557.95 L897.21,558.22 L900.46,558.48 L903.72,558.75 L906.98,559.00 L910.23,559.26 L913.49,559.51 L916.74,559.76 L920.00,560.00" class="cb"/>
<path d="M106.00,16.00 L109.26,25.04 L112.51,33.94 L115.77,42.69 L119.02,51.30 L122.28,59.77 L125.54,68.10 L128.79,76.30 L132.05,84.36 L135.30,92.29 L138.56,100.10 L141.82,107.78 L145.07,115.33 L148.33,122.76 L151.58,130.07 L154.84,137.26 L158.10,144.33 L161.35,151.29 L164.61,158.14 L167.86,164.87 L171.12,171.50 L174.38,178.02 L177.63,184.43 L180.89,190.74 L184.14,196.94 L187.40,203.04 L190.66,209.05 L193.91,214.95 L197.17,220.76 L200.42,226.48 L203.68,232.10 L206.94,237.63 L210.19,243.07 L213.45,248.43 L216.70,253.69 L219.96,258.87 L223.22,263.97 L226.47,268.98 L229.73,273.91 L232.98,278.76 L236.24,283.53 L239.50,288.22 L242.75,292.83 L246.01,297.37 L249.26,301.84 L252.52,306.23 L255.78,310.56 L259.03,314.81 L262.29,318.99 L265.54,323.10 L268.80,327.15 L272.06,331.13 L275.31,335.04 L278.57,338.89 L281.82,342.68 L285.08,346.41 L288.34,350.07 L291.59,353.68 L294.85,357.22 L298.10,360.71 L301.36,364.14 L304.62,367.52 L307.87,370.84 L311.13,374.10 L314.38,377.31 L317.64,380.47 L320.90,383.58 L324.15,386.63 L327.41,389.64 L330.66,392.60 L333.92,395.51 L337.18,398.37 L340.43,401.18 L343.69,403.95 L346.94,406.67 L350.20,409.35 L353.46,411.98 L356.71,414.57 L359.97,417.12 L363.22,419.62 L366.48,422.09 L369.74,424.51 L372.99,426.90 L376.25,429.24 L379.50,431.55 L382.76,433.82 L386.02,436.05 L389.27,438.24 L392.53,440.40 L395.78,442.53 L399.04,444.61 L402.30,446.67 L405.55,448.69 L408.81,450.67 L412.06,452.63 L415.32,454.55 L418.58,456.44 L421.83,458.30 L425.09,460.13 L428.34,461.93 L431.60,463.69 L434.86,465.43 L438.11,467.14 L441.37,468.83 L444.62,470.48 L447.88,472.11 L451.14,473.71 L454.39,475.28 L457.65,476.83 L460.90,478.35 L464.16,479.85 L467.42,481.32 L470.67,482.77 L473.93,484.20 L477.18,485.60 L480.44,486.98 L483.70,488.33 L486.95,489.66 L490.21,490.98 L493.46,492.26 L496.72,493.53 L499.98,494.78 L503.23,496.00 L506.49,497.21 L509.74,498.40 L513.00,499.56 L516.26,500.71 L519.51,501.84 L522.77,502.95 L526.02,504.04 L529.28,505.11 L532.54,506.17 L535.79,507.20 L539.05,508.22 L542.30,509.23 L545.56,510.21 L548.82,511.18 L552.07,512.14 L555.33,513.08 L558.58,514.00 L561.84,514.91 L565.10,515.80 L568.35,516.68 L571.61,517.54 L574.86,518.39 L578.12,519.22 L581.38,520.04 L584.63,520.85 L587.89,521.65 L591.14,522.43 L594.40,523.19 L597.66,523.95 L600.91,524.69 L604.17,525.42 L607.42,526.14 L610.68,526.84 L613.94,527.54 L617.19,528.22 L620.45,528.89 L623.70,529.55 L626.96,530.20 L630.22,530.84 L633.47,531.47 L636.73,532.09 L639.98,532.69 L643.24,533.29 L646.50,533.88 L649.75,534.45 L653.01,535.02 L656.26,535.58 L659.52,536.13 L662.78,536.67 L666.03,537.20 L669.29,537.72 L672.54,538.23 L675.80,538.74 L679.06,539.23 L682.31,539.72 L685.57,540.20 L688.82,540.67 L692.08,541.13 L695.34,541.59 L698.59,542.04 L701.85,542.48 L705.10,542.91 L708.36,543.34 L711.62,543.76 L714.87,544.17 L718.13,544.57 L721.38,544.97 L724.64,545.37 L727.90,545.75 L731.15,546.13 L734.41,546.50 L737.66,546.87 L740.92,547.23 L744.18,547.58 L747.43,547.93 L750.69,548.27 L753.94,548.61 L757.20,548.94 L760.46,549.26 L763.71,549.58 L766.97,549.90 L770.22,550.21 L773.48,550.51 L776.74,550.81 L779.99,551.10 L783.25,551.39 L786.50,551.68 L789.76,551.96 L793.02,552.23 L796.27,552.50 L799.53,552.77 L802.78,553.03 L806.04,553.28 L809.30,553.54 L812.55,553.79 L815.81,554.03 L819.06,554.27 L822.32,554.50 L825.58,554.74 L828.83,554.96 L832.09,555.19 L835.34,555.41 L838.60,555.63 L841.86,555.84 L845.11,556.05 L848.37,556.25 L851.62,556.46 L854.88,556.66 L858.14,556.85 L861.39,557.04 L864.65,557.23 L867.90,557.42 L871.16,557.60 L874.42,557.78 L877.67,557.96 L880.93,558.13 L884.18,558.30 L887.44,558.47 L890.70,558.63 L893.95,558.80 L897.21,558.96 L900.46,559.11 L903.72,559.27 L906.98,559.42 L910.23,559.57 L913.49,559.71 L916.74,559.86 L920.00,560.00" class="cb"/>
<path d="M106.00,16.00 L109.26,25.75 L112.51,35.35 L115.77,44.80 L119.02,54.09 L122.28,63.24 L125.54,72.24 L128.79,81.10 L132.05,89.81 L135.30,98.38 L138.56,106.82 L141.82,115.11 L145.07,123.28 L148.33,131.31 L151.58,139.20 L154.84,146.97 L158.10,154.61 L161.35,162.13 L164.61,169.52 L167.86,176.79 L171.12,183.93 L174.38,190.96 L177.63,197.88 L180.89,204.67 L184.14,211.35 L187.40,217.92 L190.66,224.38 L193.91,230.74 L197.17,236.98 L200.42,243.12 L203.68,249.15 L206.94,255.08 L210.19,260.91 L213.45,266.64 L216.70,272.27 L219.96,277.80 L223.22,283.24 L226.47,288.59 L229.73,293.84 L232.98,299.00 L236.24,304.07 L239.50,309.05 L242.75,313.95 L246.01,318.76 L249.26,323.49 L252.52,328.13 L255.78,332.69 L259.03,337.17 L262.29,341.57 L265.54,345.89 L268.80,350.14 L272.06,354.31 L275.31,358.40 L278.57,362.43 L281.82,366.38 L285.08,370.25 L288.34,374.06 L291.59,377.80 L294.85,381.47 L298.10,385.08 L301.36,388.62 L304.62,392.10 L307.87,395.51 L311.13,398.86 L314.38,402.14 L317.64,405.37 L320.90,408.54 L324.15,411.65 L327.41,414.70 L330.66,417.70 L333.92,420.63 L337.18,423.52 L340.43,426.35 L343.69,429.13 L346.94,431.85 L350.20,434.53 L353.46,437.15 L356.71,439.73 L359.97,442.25 L363.22,444.73 L366.48,447.16 L369.74,449.55 L372.99,451.89 L376.25,454.18 L379.50,456.43 L382.76,458.64 L386.02,460.80 L389.27,462.93 L392.53,465.01 L395.78,467.05 L399.04,469.05 L402.30,471.02 L405.55,472.94 L408.81,474.83 L412.06,476.68 L415.32,478.50 L418.58,480.27 L421.83,482.02 L425.09,483.73 L428.34,485.40 L431.60,487.05 L434.86,488.66 L438.11,490.23 L441.37,491.78 L444.62,493.30 L447.88,494.78 L451.14,496.24 L454.39,497.67 L457.65,499.06 L460.90,500.43 L464.16,501.78 L467.42,503.09 L470.67,504.38 L473.93,505.64 L477.18,506.88 L480.44,508.09 L483.70,509.28 L486.95,510.44 L490.21,511.58 L493.46,512.69 L496.72,513.79 L499.98,514.86 L503.23,515.90 L506.49,516.93 L509.74,517.94 L513.00,518.92 L516.26,519.88 L519.51,520.83 L522.77,521.75 L526.02,522.66 L529.28,523.54 L532.54,524.41 L535.79,525.26 L539.05,526.09 L542.30,526.90 L545.56,527.70 L548.82,528.48 L552.07,529.24 L555.33,529.98 L558.58,530.72 L561.84,531.43 L565.10,532.13 L568.35,532.81 L571.61,533.48 L574.86,534.14 L578.12,534.78 L581.38,535.41 L584.63,536.02 L587.89,536.62 L591.14,537.21 L594.40,537.79 L597.66,538.35 L600.91,538.90 L604.17,539.44 L607.42,539.96 L610.68,540.48 L613.94,540.98 L617.19,541.47 L620.45,541.96 L623.70,542.43 L626.96,542.89 L630.22,543.34 L633.47,543.78 L636.73,544.21 L639.98,544.63 L643.24,545.04 L646.50,545.44 L649.75,545.84 L653.01,546.22 L656.26,546.60 L659.52,546.96 L662.78,547.32 L666.03,547.67 L669.29,548.02 L672.54,548.35 L675.80,548.68 L679.06,549.00 L682.31,549.31 L685.57,549.62 L688.82,549.92 L692.08,550.21 L695.34,550.50 L698.59,550.77 L701.85,551.05 L705.10,551.31 L708.36,551.57 L711.62,551.83 L714.87,552.07 L718.13,552.32 L721.38,552.55 L724.64,552.78 L727.90,553.01 L731.15,553.23 L734.41,553.45 L737.66,553.66 L740.92,553.86 L744.18,554.06 L747.43,554.26 L750.69,554.45 L753.94,554.64 L757.20,554.82 L760.46,555.00 L763.71,555.17 L766.97,555.34 L770.22,555.50 L773.48,555.67 L776.74,555.82 L779.99,555.98 L783.25,556.13 L786.50,556.27 L789.76,556.42 L793.02,556.56 L796.27,556.69 L799.53,556.83 L802.78,556.96 L806.04,557.08 L809.30,557.21 L812.55,557.33 L815.81,557.44 L819.06,557.56 L822.32,557.67 L825.58,557.78 L828.83,557.89 L832.09,557.99 L835.34,558.09 L838.60,558.19 L841.86,558.29 L845.11,558.38 L848.37,558.47 L851.62,558.56 L854.88,558.65 L858.14,558.73 L861.39,558.82 L864.65,558.90 L867.90,558.98 L871.16,559.05 L874.42,559.13 L877.67,559.20 L880.93,559.27 L884.18,559.34 L887.44,559.41 L890.70,559.48 L893.95,559.54 L897.21,559.60 L900.46,559.66 L903.72,559.72 L906.98,559.78 L910.23,559.84 L913.49,559.89 L916.74,559.95 L920.00,560.00" class="cg"/>
<path d="M106.00,16.00 L109.26,27.15 L112.51,38.09 L115.77,48.82 L119.02,59.36 L122.28,69.70 L125.54,79.85 L128.79,89.81 L132.05,99.58 L135.30,109.16 L138.56,118.57 L141.82,127.79 L145.07,136.84 L148.33,145.72 L151.58,154.43 L154.84,162.98 L158.10,171.36 L161.35,179.57 L164.61,187.64 L167.86,195.54 L171.12,203.29 L174.38,210.90 L177.63,218.35 L180.89,225.66 L184.14,232.83 L187.40,239.85 L190.66,246.74 L193.91,253.50 L197.17,260.12 L200.42,266.61 L203.68,272.97 L206.94,279.21 L210.19,285.32 L213.45,291.31 L216.70,297.18 L219.96,302.94 L223.22,308.58 L226.47,314.10 L229.73,319.52 L232.98,324.82 L236.24,330.02 L239.50,335.12 L242.75,340.11 L246.01,344.99 L249.26,349.78 L252.52,354.47 L255.78,359.07 L259.03,363.57 L262.29,367.98 L265.54,372.30 L268.80,376.52 L272.06,380.67 L275.31,384.72 L278.57,388.69 L281.82,392.58 L285.08,396.39 L288.34,400.12 L291.59,403.77 L294.85,407.34 L298.10,410.84 L301.36,414.26 L304.62,417.61 L307.87,420.90 L311.13,424.11 L314.38,427.25 L317.64,430.33 L320.90,433.34 L324.15,436.28 L327.41,439.17 L330.66,441.99 L333.92,444.75 L337.18,447.45 L340.43,450.10 L343.69,452.68 L346.94,455.21 L350.20,457.69 L353.46,460.11 L356.71,462.48 L359.97,464.79 L363.22,467.06 L366.48,469.27 L369.74,471.44 L372.99,473.56 L376.25,475.64 L379.50,477.66 L382.76,479.65 L386.02,481.58 L389.27,483.48 L392.53,485.33 L395.78,487.14 L399.04,488.92 L402.30,490.65 L405.55,492.34 L408.81,493.99 L412.06,495.61 L415.32,497.19 L418.58,498.74 L421.83,500.25 L425.09,501.72 L428.34,503.17 L431.60,504.58 L434.86,505.95 L438.11,507.30 L441.37,508.61 L444.62,509.90 L447.88,511.15 L451.14,512.38 L454.39,513.58 L457.65,514.75 L460.90,515.89 L464.16,517.01 L467.42,518.10 L470.67,519.16 L473.93,520.20 L477.18,521.22 L480.44,522.21 L483.70,523.18 L486.95,524.13 L490.21,525.05 L493.46,525.95 L496.72,526.83 L499.98,527.69 L503.23,528.53 L506.49,529.35 L509.74,530.15 L513.00,530.93 L516.26,531.70 L519.51,532.44 L522.77,533.17 L526.02,533.87 L529.28,534.57 L532.54,535.24 L535.79,535.90 L539.05,536.54 L542.30,537.17 L545.56,537.78 L548.82,538.38 L552.07,538.96 L555.33,539.53 L558.58,540.08 L561.84,540.62 L565.10,541.15 L568.35,541.67 L571.61,542.17 L574.86,542.66 L578.12,543.14 L581.38,543.60 L584.63,544.06 L587.89,544.50 L591.14,544.93 L594.40,545.35 L597.66,545.76 L600.91,546.16 L604.17,546.55 L607.42,546.93 L610.68,547.30 L613.94,547.67 L617.19,548.02 L620.45,548.36 L623.70,548.70 L626.96,549.02 L630.22,549.34 L633.47,549.65 L636.73,549.95 L639.98,550.25 L643.24,550.54 L646.50,550.81 L649.75,551.09 L653.01,551.35 L656.26,551.61 L659.52,551.86 L662.78,552.11 L666.03,552.35 L669.29,552.58 L672.54,552.81 L675.80,553.03 L679.06,553.24 L682.31,553.45 L685.57,553.66 L688.82,553.86 L692.08,554.05 L695.34,554.24 L698.59,554.42 L701.85,554.60 L705.10,554.78 L708.36,554.94 L711.62,555.11 L714.87,555.27 L718.13,555.43 L721.38,555.58 L724.64,555.73 L727.90,555.87 L731.15,556.01 L734.41,556.15 L737.66,556.28 L740.92,556.41 L744.18,556.54 L747.43,556.66 L750.69,556.78 L753.94,556.89 L757.20,557.01 L760.46,557.12 L763.71,557.22 L766.97,557.33 L770.22,557.43 L773.48,557.53 L776.74,557.62 L779.99,557.72 L783.25,557.81 L786.50,557.89 L789.76,557.98 L793.02,558.06 L796.27,558.14 L799.53,558.22 L802.78,558.30 L806.04,558.37 L809.30,558.45 L812.55,558.52 L815.81,558.59 L819.06,558.65 L822.32,558.72 L825.58,558.78 L828.83,558.84 L832.09,558.90 L835.34,558.96 L838.60,559.01 L841.86,559.07 L845.11,559.12 L848.37,559.17 L851.62,559.22 L854.88,559.27 L858.14,559.32 L861.39,559.37 L864.65,559.41 L867.90,559.45 L871.16,559.50 L874.42,559.54 L877.67,559.58 L880.93,559.61 L884.18,559.65 L887.44,559.69 L890.70,559.72 L893.95,559.76 L897.21,559.79 L900.46,559.82 L903.72,559.86 L906.98,559.89 L910.23,559.92 L913.49,559.94 L916.74,559.97 L920.00,560.00" class="cg"/>
<path d="M106.00,16.00 L109.26,28.05 L112.51,39.86 L115.77,51.44 L119.02,62.80 L122.28,73.94 L125.54,84.85 L128.79,95.56 L132.05,106.05 L135.30,116.33 L138.56,126.40 L141.82,136.28 L145.07,145.96 L148.33,155.44 L151.58,164.73 L154.84,173.83 L158.10,182.75 L161.35,191.48 L164.61,200.04 L167.86,208.42 L171.12,216.63 L174.38,224.67 L177.63,232.54 L180.89,240.24 L184.14,247.79 L187.40,255.17 L190.66,262.41 L193.91,269.48 L197.17,276.41 L200.42,283.19 L203.68,289.83 L206.94,296.33 L210.19,302.68 L213.45,308.90 L216.70,314.98 L219.96,320.94 L223.22,326.76 L226.47,332.45 L229.73,338.02 L232.98,343.47 L236.24,348.80 L239.50,354.01 L242.75,359.11 L246.01,364.09 L249.26,368.96 L252.52,373.72 L255.78,378.38 L259.03,382.93 L262.29,387.38 L265.54,391.72 L268.80,395.97 L272.06,400.12 L275.31,404.18 L278.57,408.14 L281.82,412.02 L285.08,415.80 L288.34,419.50 L291.59,423.11 L294.85,426.63 L298.10,430.08 L301.36,433.44 L304.62,436.72 L307.87,439.93 L311.13,443.06 L314.38,446.12 L317.64,449.10 L320.90,452.02 L324.15,454.86 L327.41,457.63 L330.66,460.34 L333.92,462.99 L337.18,465.57 L340.43,468.08 L343.69,470.54 L346.94,472.94 L350.20,475.28 L353.46,477.56 L356.71,479.78 L359.97,481.95 L363.22,484.07 L366.48,486.13 L369.74,488.14 L372.99,490.10 L376.25,492.02 L379.50,493.88 L382.76,495.70 L386.02,497.47 L389.27,499.20 L392.53,500.89 L395.78,502.53 L399.04,504.13 L402.30,505.69 L405.55,507.21 L408.81,508.69 L412.06,510.13 L415.32,511.53 L418.58,512.90 L421.83,514.24 L425.09,515.53 L428.34,516.80 L431.60,518.03 L434.86,519.23 L438.11,520.40 L441.37,521.53 L444.62,522.64 L447.88,523.72 L451.14,524.77 L454.39,525.79 L457.65,526.78 L460.90,527.75 L464.16,528.69 L467.42,529.61 L470.67,530.50 L473.93,531.37 L477.18,532.21 L480.44,533.03 L483.70,533.83 L486.95,534.61 L490.21,535.37 L493.46,536.10 L496.72,536.82 L499.98,537.51 L503.23,538.19 L506.49,538.84 L509.74,539.48 L513.00,540.11 L516.26,540.71 L519.51,541.30 L522.77,541.87 L526.02,542.42 L529.28,542.96 L532.54,543.48 L535.79,543.99 L539.05,544.49 L542.30,544.97 L545.56,545.44 L548.82,545.89 L552.07,546.33 L555.33,546.76 L558.58,547.17 L561.84,547.58 L565.10,547.97 L568.35,548.35 L571.61,548.72 L574.86,549.08 L578.12,549.43 L581.38,549.77 L584.63,550.09 L587.89,550.41 L591.14,550.72 L594.40,551.02 L597.66,551.31 L600.91,551.60 L604.17,551.87 L607.42,552.14 L610.68,552.40 L613.94,552.65 L617.19,552.89 L620.45,553.13 L623.70,553.36 L626.96,553.58 L630.22,553.79 L633.47,554.00 L636.73,554.20 L639.98,554.40 L643.24,554.59 L646.50,554.77 L649.75,554.95 L653.01,555.13 L656.26,555.29 L659.52,555.46 L662.78,555.61 L666.03,555.77 L669.29,555.92 L672.54,556.06 L675.80,556.20 L679.06,556.33 L682.31,556.46 L685.57,556.59 L688.82,556.71 L692.08,556.83 L695.34,556.95 L698.59,557.06 L701.85,557.16 L705.10,557.27 L708.36,557.37 L711.62,557.47 L714.87,557.56 L718.13,557.65 L721.38,557.74 L724.64,557.83 L727.90,557.91 L731.15,557.99 L734.41,558.07 L737.66,558.15 L740.92,558.22 L744.18,558.29 L747.43,558.36 L750.69,558.42 L753.94,558.49 L757.20,558.55 L760.46,558.61 L763.71,558.67 L766.97,558.72 L770.22,558.78 L773.48,558.83 L776.74,558.88 L779.99,558.93 L783.25,558.97 L786.50,559.02 L789.76,559.06 L793.02,559.11 L796.27,559.15 L799.53,559.19 L802.78,559.23 L806.04,559.26 L809.30,559.30 L812.55,559.33 L815.81,559.37 L819.06,559.40 L822.32,559.43 L825.58,559.46 L828.83,559.49 L832.09,559.52 L835.34,559.55 L838.60,559.57 L841.86,559.60 L845.11,559.62 L848.37,559.65 L851.62,559.67 L854.88,559.69 L858.14,559.71 L861.39,559.73 L864.65,559.75 L867.90,559.77 L871.16,559.79 L874.42,559.81 L877.67,559.82 L880.93,559.84 L884.18,559.86 L887.44,559.87 L890.70,559.89 L893.95,559.90 L897.21,559.92 L900.46,559.93 L903.72,559.94 L906.98,559.95 L910.23,559.97 L913.49,559.98 L916.74,559.99 L920.00,560.00" class="cg"/>
<path d="M106.00,16.00 L109.26,29.77 L112.51,43.21 L115.77,56.33 L119.02,69.15 L122.28,81.66 L125.54,93.87 L128.79,105.79 L132.05,117.43 L135.30,128.79 L138.56,139.87 L141.82,150.69 L145.07,161.25 L148.33,171.55 L151.58,181.61 L154.84,191.42 L158.10,201.00 L161.35,210.34 L164.61,219.45 L167.86,228.34 L171.12,237.02 L174.38,245.48 L177.63,253.74 L180.89,261.79 L184.14,269.64 L187.40,277.30 L190.66,284.77 L193.91,292.05 L197.17,299.16 L200.42,306.09 L203.68,312.84 L206.94,319.43 L210.19,325.85 L213.45,332.11 L216.70,338.21 L219.96,344.16 L223.22,349.96 L226.47,355.62 L229.73,361.13 L232.98,366.50 L236.24,371.73 L239.50,376.83 L242.75,381.80 L246.01,386.65 L249.26,391.37 L252.52,395.97 L255.78,400.45 L259.03,404.82 L262.29,409.07 L265.54,413.22 L268.80,417.25 L272.06,421.19 L275.31,425.02 L278.57,428.75 L281.82,432.38 L285.08,435.92 L288.34,439.37 L291.59,442.72 L294.85,445.99 L298.10,449.17 L301.36,452.27 L304.62,455.29 L307.87,458.23 L311.13,461.09 L314.38,463.87 L317.64,466.58 L320.90,469.22 L324.15,471.79 L327.41,474.28 L330.66,476.72 L333.92,479.08 L337.18,481.39 L340.43,483.63 L343.69,485.81 L346.94,487.93 L350.20,490.00 L353.46,492.01 L356.71,493.96 L359.97,495.86 L363.22,497.71 L366.48,499.51 L369.74,501.26 L372.99,502.96 L376.25,504.62 L379.50,506.23 L382.76,507.80 L386.02,509.32 L389.27,510.80 L392.53,512.24 L395.78,513.64 L399.04,515.00 L402.30,516.33 L405.55,517.61 L408.81,518.86 L412.06,520.08 L415.32,521.26 L418.58,522.41 L421.83,523.53 L425.09,524.61 L428.34,525.67 L431.60,526.69 L434.86,527.69 L438.11,528.66 L441.37,529.60 L444.62,530.51 L447.88,531.40 L451.14,532.26 L454.39,533.10 L457.65,533.91 L460.90,534.70 L464.16,535.47 L467.42,536.22 L470.67,536.94 L473.93,537.65 L477.18,538.33 L480.44,538.99 L483.70,539.64 L486.95,540.27 L490.21,540.87 L493.46,541.46 L496.72,542.04 L499.98,542.59 L503.23,543.13 L506.49,543.66 L509.74,544.17 L513.00,544.66 L516.26,545.14 L519.51,545.60 L522.77,546.06 L526.02,546.49 L529.28,546.92 L532.54,547.33 L535.79,547.73 L539.05,548.12 L542.30,548.50 L545.56,548.86 L548.82,549.22 L552.07,549.56 L555.33,549.90 L558.58,550.22 L561.84,550.54 L565.10,550.84 L568.35,551.14 L571.61,551.42 L574.86,551.70 L578.12,551.97 L581.38,552.23 L584.63,552.48 L587.89,552.73 L591.14,552.97 L594.40,553.20 L597.66,553.42 L600.91,553.64 L604.17,553.85 L607.42,554.06 L610.68,554.25 L613.94,554.45 L617.19,554.63 L620.45,554.81 L623.70,554.99 L626.96,555.15 L630.22,555.32 L633.47,555.48 L636.73,555.63 L639.98,555.78 L643.24,555.92 L646.50,556.06 L649.75,556.20 L653.01,556.33 L656.26,556.46 L659.52,556.58 L662.78,556.70 L666.03,556.82 L669.29,556.93 L672.54,557.04 L675.80,557.14 L679.06,557.24 L682.31,557.34 L685.57,557.44 L688.82,557.53 L692.08,557.62 L695.34,557.70 L698.59,557.79 L701.85,557.87 L705.10,557.95 L708.36,558.02 L711.62,558.10 L714.87,558.17 L718.13,558.24 L721.38,558.30 L724.64,558.37 L727.90,558.43 L731.15,558.49 L734.41,558.55 L737.66,558.61 L740.92,558.66 L744.18,558.71 L747.43,558.76 L750.69,558.81 L753.94,558.86 L757.20,558.91 L760.46,558.95 L763.71,559.00 L766.97,559.04 L770.22,559.08 L773.48,559.12 L776.74,559.15 L779.99,559.19 L783.25,559.23 L786.50,559.26 L789.76,559.29 L793.02,559.33 L796.27,559.36 L799.53,559.39 L802.78,559.42 L806.04,559.44 L809.30,559.47 L812.55,559.50 L815.81,559.52 L819.06,559.55 L822.32,559.57 L825.58,559.59 L828.83,559.61 L832.09,559.64 L835.34,559.66 L838.60,559.68 L841.86,559.69 L845.11,559.71 L848.37,559.73 L851.62,559.75 L854.88,559.76 L858.14,559.78 L861.39,559.80 L864.65,559.81 L867.90,559.83 L871.16,559.84 L874.42,559.85 L877.67,559.87 L880.93,559.88 L884.18,559.89 L887.44,559.90 L890.70,559.91 L893.95,559.93 L897.21,559.94 L900.46,559.95 L903.72,559.96 L906.98,559.97 L910.23,559.97 L913.49,559.98 L916.74,559.99 L920.00,560.00" class="cg"/>
<text x="105.8" y="597.8" class="tl" text-anchor="middle">0</text>
<text x="269.5" y="597.8" class="tl" text-anchor="middle">0.5</text>
<text x="431.5" y="597.8" class="tl" text-anchor="middle"><tspan class="h1">1</tspan></text>
<text x="594.5" y="597.8" class="tl" text-anchor="middle"><tspan class="h1">1</tspan>.5</text>
<text x="758.0" y="597.8" class="tl" text-anchor="middle">2</text>
<text x="920.2" y="597.8" class="tl" text-anchor="middle">2.5</text>
<text x="97.3" y="571.5" class="tl" text-anchor="end">0</text>
<text x="97.3" y="461.5" class="tl" text-anchor="end">0.2</text>
<text x="97.3" y="352.7" class="tl" text-anchor="end">0.4</text>
<text x="97.3" y="244.1" class="tl" text-anchor="end">0.6</text>
<text x="97.3" y="134.4" class="tl" text-anchor="end">0.8</text>
<text x="97.3" y="24.7" class="tl" text-anchor="end"><tspan class="h1">1</tspan></text>
<rect x="194" y="25.3" width="396.5" height="74" class="bx"/>
<text x="203" y="59" class="tx">fw = 0.3, Pr = 7, c = 4, Df = 0.<tspan class="h1">1</tspan>,</text>
<text x="203" y="93" class="tx">Sr = 0.<tspan class="h1">1</tspan>, <tspan class="gm">&#947;</tspan> = 0.5</text>
<rect x="609.5" y="25.4" width="257.5" height="115.6" class="bx"/>
<text x="618" y="58.6" class="tx lg">Ternary Group <tspan class="h1">1</tspan></text>
<text x="618" y="92.8" class="tx lg">Ternary Group 2</text>
<text x="618" y="127" class="tx lg">Base fluid</text>
<line x1="831.5" y1="50" x2="864" y2="50" stroke="#ff0000" stroke-width="3.2" stroke-dasharray="14,10.5"/>
<line x1="831" y1="82.6" x2="865.5" y2="82.6" stroke="#0000ff" stroke-width="3.6" stroke-dasharray="3.6,2.2"/>
<line x1="834.6" y1="117.6" x2="864.4" y2="117.6" stroke="#0a7d0a" stroke-width="3.2"/>
<rect x="610.4" y="158.4" width="258" height="48.3" class="bx"/>
<text x="619.5" y="192" class="tx">Sc =0.4, 0.5, 0.6, 0.7</text>
<line x1="395.1" y1="300.0" x2="257.6" y2="456.5" stroke="#77ac30" stroke-width="3"/>
<path d="M249.0,466.3 L255.8,447.6 L257.6,456.5 L266.6,457.2 Z" fill="#77ac30"/>
<text transform="translate(507,637.3) scale(1.1,1)" x="-1" y="0" class="ml" font-size="27.5">&#951;</text>
<text transform="translate(34.6,350.7) rotate(-90) scale(1.28,1)" class="ml2" font-size="31.0">&#966;</text>
<text transform="translate(34.6,323.8) rotate(-90) scale(1.12,1)" class="mr" font-size="33.0">(</text>
<text transform="translate(34.6,312.3) rotate(-90) scale(1.15,1)" class="ml2" font-size="31.0">&#951;</text>
<text transform="translate(34.6,290.5) rotate(-90) scale(1.12,1)" class="mr" font-size="33.0">)</text>
<path transform="translate(424.27,597.80) scale(0.01270,-0.01270)" d="M763 0H583V1147Q518 1085 412 1023Q306 961 222 930V1104Q373 1175 486 1276Q599 1377 646 1472H763Z" fill="rgb(58, 58, 58)" stroke="rgb(58, 58, 58)" stroke-width="0.2px" vector-effect="non-scaling-stroke"/>
<path transform="translate(576.42,597.80) scale(0.01270,-0.01270)" d="M763 0H583V1147Q518 1085 412 1023Q306 961 222 930V1104Q373 1175 486 1276Q599 1377 646 1472H763Z" fill="rgb(58, 58, 58)" stroke="rgb(58, 58, 58)" stroke-width="0.2px" vector-effect="non-scaling-stroke"/>
<path transform="translate(82.83,24.70) scale(0.01270,-0.01270)" d="M763 0H583V1147Q518 1085 412 1023Q306 961 222 930V1104Q373 1175 486 1276Q599 1377 646 1472H763Z" fill="rgb(58, 58, 58)" stroke="rgb(58, 58, 58)" stroke-width="0.2px" vector-effect="non-scaling-stroke"/>
<path transform="translate(533.44,59.00) scale(0.01235,-0.01235)" d="M763 0H583V1147Q518 1085 412 1023Q306 961 222 930V1104Q373 1175 486 1276Q599 1377 646 1472H763Z" fill="rgb(20, 20, 20)" stroke="rgb(20, 20, 20)" stroke-width="0.4px" vector-effect="non-scaling-stroke"/>
<path transform="translate(278.23,93.00) scale(0.01235,-0.01235)" d="M763 0H583V1147Q518 1085 412 1023Q306 961 222 930V1104Q373 1175 486 1276Q599 1377 646 1472H763Z" fill="rgb(20, 20, 20)" stroke="rgb(20, 20, 20)" stroke-width="0.4px" vector-effect="non-scaling-stroke"/>
<path transform="translate(788.70,58.60) scale(0.01250,-0.01250)" d="M763 0H583V1147Q518 1085 412 1023Q306 961 222 930V1104Q373 1175 486 1276Q599 1377 646 1472H763Z" fill="rgb(20, 20, 20)" stroke="rgb(20, 20, 20)" stroke-width="0.4px" vector-effect="non-scaling-stroke"/>
</g>
</svg>
</body></html>
